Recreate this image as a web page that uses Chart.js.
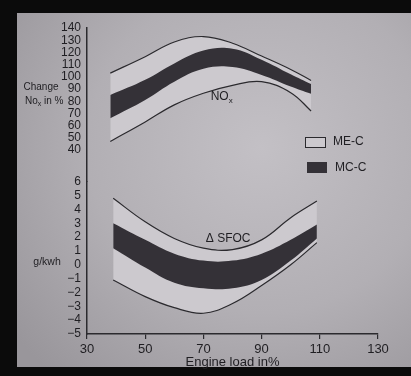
<!DOCTYPE html>
<html>
<head>
<meta charset="utf-8">
<script src="https://cdn.jsdelivr.net/npm/chart.js"></script>
<style>
    html, body { margin: 0; padding: 0; background: #0b0b0b; }
    #wrap { position: relative; width: 411px; height: 376px; overflow: hidden; }
    #paper {
        position: absolute; left: 17px; top: 13px; width: 394px; height: 354px;
        background: radial-gradient(ellipse 80% 85% at 62% 38%, #c3c0c5 0%, #b2afb4 55%, #99969b 100%);
    }
    canvas { position: absolute; left: 0; top: 0; }
</style>
</head>
<body>
<div id="wrap">
    <div id="paper"></div>
    <canvas id="chart" width="411" height="376"></canvas>
</div>
<script>
// Engine load (%) where each band is sampled
const loadsNox = [38, 50, 60, 70, 80, 90, 100, 107];
const loadsSfoc = [39, 50, 60, 70, 80, 90, 100, 109];

// NOx change in % (ME-C = outer light band, MC-C = inner dark band)
const noxOuterTop = [103, 116.5, 128.5, 133, 127.5, 117, 106, 97];
const noxDarkTop = [85, 97.5, 111, 121.5, 123, 114, 102, 94];
const noxDarkBottom = [66, 81, 96, 106.5, 108, 101.5, 92, 86];
const noxOuterBottom = [47, 63, 77, 86.5, 93, 96, 87, 72];

// delta SFOC in g/kWh
const sfocOuterTop = [4.8, 3.1, 1.9, 1.2, 1.1, 1.8, 3.4, 4.6];
const sfocDarkTop = [3.0, 1.8, 0.8, 0.3, 0.3, 0.8, 1.8, 2.9];
const sfocDarkBottom = [1.2, -0.2, -1.3, -1.7, -1.7, -1.1, 0.3, 1.9];
const sfocOuterBottom = [-1.1, -2.3, -3.1, -3.5, -2.8, -1.5, 0.0, 1.6];

// tick labels
const xTicks = [30, 50, 70, 90, 110, 130];
const noxTicks = [40, 50, 60, 70, 80, 90, 100, 110, 120, 130, 140];
const sfocTicks = [-5, -4, -3, -2, -1, 0, 1, 2, 3, 4, 5, 6];

const INK = '#1f1e22';
const EDGE = '#2b2a2e';
const LIGHT = 'rgb(204,201,206)';
const DARK = 'rgb(52,49,55)';
const FONT = "'Liberation Sans', Arial, sans-serif";
const NARROW = "'Liberation Sans Narrow', 'Liberation Sans', Arial, sans-serif";

function pts(xs, ys) {
    return xs.map((x, i) => ({ x: x, y: ys[i] }));
}

function band(xs, ys, axis, fill, color, edge) {
    return {
        data: pts(xs, ys),
        yAxisID: axis,
        fill: fill,
        backgroundColor: color,
        borderColor: edge ? EDGE : 'rgba(0,0,0,0)',
        borderWidth: 1.2,
        pointRadius: 0,
        tension: 0.4
    };
}

function fixedTicks(list) {
    return function(scale) {
        scale.ticks = list.map(v => ({ value: v }));
    };
}

// free text: band names, axis captions, legend
const notes = {
    id: 'notes',
    afterDraw(chart) {
        const { ctx, scales } = chart;
        ctx.save();
        ctx.fillStyle = INK;
        ctx.textBaseline = 'middle';

        // NOx label inside the upper plot
        let x = scales.x.getPixelForValue(72.5);
        let y = scales.yN.getPixelForValue(84);
        ctx.font = '12px ' + FONT;
        ctx.textAlign = 'left';
        ctx.fillText('NO', x, y);
        let w = ctx.measureText('NO').width;
        ctx.font = '8px ' + FONT;
        ctx.fillText('x', x + w, y + 4);

        // delta SFOC label
        x = scales.x.getPixelForValue(78.5);
        y = scales.yS.getPixelForValue(1.85);
        ctx.font = '12px ' + FONT;
        ctx.textAlign = 'center';
        ctx.fillText('\u0394 SFOC', x, y);

        // left captions
        ctx.font = '10px ' + NARROW;
        ctx.fillText('Change', 41, 87);
        ctx.textAlign = 'left';
        ctx.fillText('No', 25, 101);
        w = ctx.measureText('No').width;
        ctx.font = '7px ' + NARROW;
        ctx.fillText('x', 25 + w, 104);
        let w2 = ctx.measureText('x').width;
        ctx.font = '10px ' + NARROW;
        ctx.fillText(' in %', 25 + w + w2, 101);
        ctx.font = '10.5px ' + NARROW;
        ctx.textAlign = 'center';
        ctx.fillText('g/kwh', 47, 262);

        // legend
        ctx.fillStyle = LIGHT;
        ctx.fillRect(305, 137, 20, 10);
        ctx.strokeStyle = EDGE;
        ctx.lineWidth = 1;
        ctx.strokeRect(305.5, 137.5, 20, 10);
        ctx.fillStyle = DARK;
        ctx.fillRect(307, 162, 20, 11);
        ctx.fillStyle = INK;
        ctx.font = '12px ' + FONT;
        ctx.textAlign = 'left';
        ctx.fillText('ME-C', 333, 142);
        ctx.fillText('MC-C', 335, 167.5);
        ctx.restore();
    }
};

const ctx = document.getElementById('chart').getContext('2d');
new Chart(ctx, {
    type: 'line',
    data: {
        datasets: [
            band(loadsNox, noxDarkTop, 'yN', '+1', DARK, false),
            band(loadsNox, noxDarkBottom, 'yN', false, DARK, false),
            band(loadsNox, noxOuterTop, 'yN', '+1', LIGHT, true),
            band(loadsNox, noxOuterBottom, 'yN', false, LIGHT, true),
            band(loadsSfoc, sfocDarkTop, 'yS', '+1', DARK, false),
            band(loadsSfoc, sfocDarkBottom, 'yS', false, DARK, false),
            band(loadsSfoc, sfocOuterTop, 'yS', '+1', LIGHT, true),
            band(loadsSfoc, sfocOuterBottom, 'yS', false, LIGHT, true)
        ]
    },
    options: {
        responsive: false,
        animation: false,
        devicePixelRatio: 1,
        layout: { padding: { left: 17, top: 28, right: 33, bottom: 0 } },
        plugins: {
            legend: { display: false },
            tooltip: { enabled: false },
            filler: { drawTime: 'beforeDatasetsDraw' }
        },
        scales: {
            x: {
                type: 'linear',
                min: 30,
                max: 130,
                afterBuildTicks: fixedTicks(xTicks),
                afterFit: s => { s.height = 42; },
                grid: { drawOnChartArea: false, tickLength: 5, color: EDGE, lineWidth: 1.2 },
                border: { color: EDGE, width: 1.5 },
                ticks: { color: INK, font: { family: FONT, size: 13 }, padding: 3, maxRotation: 0, autoSkip: false },
                title: {
                    display: true,
                    text: 'Engine load in%',
                    color: INK,
                    font: { family: FONT, size: 13 },
                    padding: { top: 0, bottom: 6 }
                }
            },
            // the stack is filled from the bottom up, so the lower axis comes first
            yS: {
                type: 'linear',
                position: 'left',
                stack: 'y',
                stackWeight: 152.3,
                min: -5,
                max: 6,
                afterBuildTicks: fixedTicks(sfocTicks),
                afterFit: s => { s.width = 70; },
                grid: { display: false, drawTicks: false },
                border: { color: EDGE, width: 1.5 },
                ticks: {
                    color: INK,
                    font: { family: NARROW, size: 12 },
                    padding: 6,
                    autoSkip: false,
                    callback: v => (v < 0 ? '\u2212' + Math.abs(v) : String(v))
                }
            },
            yN: {
                type: 'linear',
                position: 'left',
                stack: 'y',
                stackWeight: 153.7,
                min: 14,
                max: 140,
                afterBuildTicks: fixedTicks(noxTicks),
                afterFit: s => { s.width = 70; },
                grid: { display: false, drawTicks: false },
                border: { color: EDGE, width: 1.5 },
                ticks: { color: INK, font: { family: NARROW, size: 12 }, padding: 6, autoSkip: false }
            }
        }
    },
    plugins: [notes]
});
</script>
</body>
</html>
